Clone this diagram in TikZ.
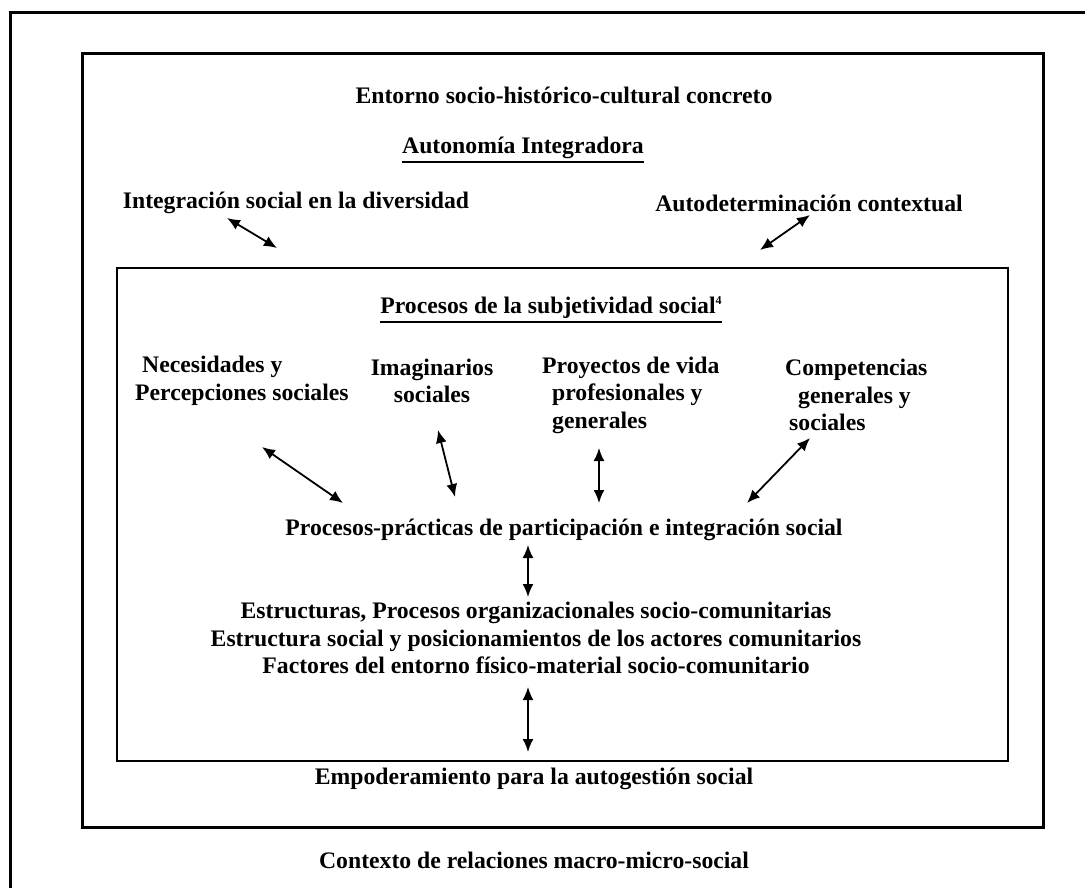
\documentclass[tikz,border=0pt]{standalone}
\usepackage{fontspec}
\setmainfont{Liberation Serif}
\usepackage{tikz}
\usetikzlibrary{arrows.meta}
\newcommand{\ulbold}[1]{\leavevmode\vtop{\hbox{#1}\kern2.5pt\hrule height 1.8pt}}

\begin{document}
\begin{tikzpicture}[x=1pt, y=-1pt,
   txt/.style={font=\fontsize{23.7}{27.5}\selectfont\bfseries, inner sep=0},
   txtleft/.style={txt, align=left, anchor=west},
   frame/.style={draw=black, line width=3},
   twoway/.style={{Latex[length=13, width=11]}-{Latex[length=13, width=11]},
                  line width=1.8}
  ]

  \useasboundingbox (0, 0) rectangle (1085, 888);

  \draw[frame] (10.5, 888) -- (10.5, 12.5) -- (1085, 12.5);
  \draw[frame] (82, 54) rectangle (1043, 827);
  \draw[frame, line width=2.5] (117, 268) rectangle (1008, 761);

  \node (ENT) at (564, 95) [txt] {Entorno socio-histórico-cultural concreto};
  \node (AUT) at (523, 150) [txt] {\ulbold{Autonomía Integradora}};
  \node (INT) at (296, 203) [txt] {Integración social en la diversidad};
  \node (DET) at (809, 203) [txt] {Autodeterminación contextual};

  \node (SUB) at (551, 310) [txt]
    {\ulbold{Procesos de la subjetividad social\raisebox{9pt}{\fontsize{12}{12}\selectfont 4}}};

  \node (NEC) at (135, 381) [txtleft] {\hspace*{7pt}Necesidades y\\Percepciones sociales};
  \node (IMA) at (432, 381) [txt, align=center] {Imaginarios\\sociales};
  \node (PRO) at (542, 395) [txtleft]
    {Proyectos de vida\\\hspace*{10pt}profesionales y\\\hspace*{10pt}generales};
  \node (COM) at (785, 395) [txtleft]
    {Competencias\\\hspace*{13pt}generales y\\\hspace*{4pt}sociales};

  \node (PRA) at (564, 530) [txt] {Procesos-prácticas de participación e integración social};
  \node (EST) at (536, 638) [txt, align=center]
    {Estructuras, Procesos organizacionales socio-comunitarias\\
     Estructura social y posicionamientos de los actores comunitarios\\
     Factores del entorno físico-material socio-comunitario};

  \node (EMP) at (534, 779) [txt] {Empoderamiento para la autogestión social};
  \node (CTX) at (534, 860) [txt] {Contexto de relaciones macro-micro-social};

  \coordinate (INTa) at (227, 218);  \coordinate (INTb) at (277, 248);
  \coordinate (DETa) at (810, 215);  \coordinate (DETb) at (760, 250);
  \coordinate (NECa) at (262, 447);  \coordinate (NECb) at (343, 503);
  \coordinate (IMAa) at (438, 430);  \coordinate (IMAb) at (455, 497);
  \coordinate (PROa) at (599, 448);  \coordinate (PROb) at (599, 503);
  \coordinate (COMa) at (810, 438);  \coordinate (COMb) at (747, 503);
  \coordinate (PRAa) at (528, 545);  \coordinate (PRAb) at (528, 597);
  \coordinate (ESTa) at (528, 687);  \coordinate (ESTb) at (528, 752);

  \foreach \B/\E in {INTa/INTb, DETa/DETb, NECa/NECb, IMAa/IMAb,
                     PROa/PROb, COMa/COMb, PRAa/PRAb, ESTa/ESTb} {
    \draw[twoway] (\B) -- (\E);
  }

\end{tikzpicture}
\end{document}
